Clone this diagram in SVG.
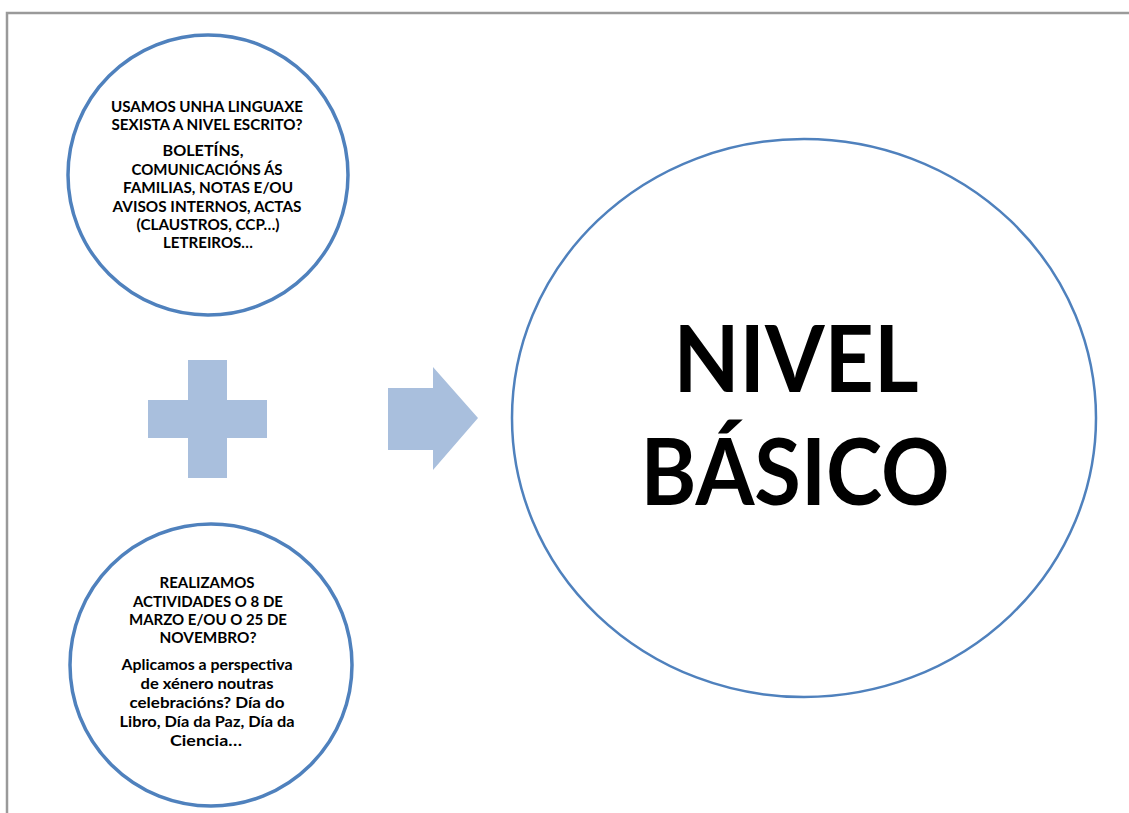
<svg xmlns="http://www.w3.org/2000/svg" width="1129" height="813" viewBox="0 0 1129 813">
<style>
.frame{fill:none;stroke:#9a9a9a;stroke-width:2.5}
.ring{fill:#ffffff;stroke:#4F81BD;stroke-width:3.5}
.big{fill:#ffffff;stroke:#4F81BD;stroke-width:2.5}
.shape{fill:#A9BFDD}
.t{font-family:Lato,"Open Sans","Liberation Sans",sans-serif;font-weight:bold;font-size:15.5px;fill:#000;text-anchor:middle}
.tb{font-family:Lato,"Open Sans","Liberation Sans",sans-serif;font-weight:bold;font-size:92px;fill:#000;text-anchor:middle}
</style>
<rect width="1129" height="813" fill="#ffffff"/>
<path class="frame" d="M7,813 L7,13 L1129,13"/>
<g id="node-top">
<circle class="ring" cx="208" cy="175" r="140"/>
<text class="t" x="207" y="112" textLength="192" lengthAdjust="spacingAndGlyphs">USAMOS UNHA LINGUAXE</text>
<text class="t" x="207" y="130" textLength="191" lengthAdjust="spacingAndGlyphs">SEXISTA A NIVEL ESCRITO?</text>
<text class="t" x="203" y="156" textLength="81" lengthAdjust="spacingAndGlyphs">BOLETÍNS,</text>
<text class="t" x="207" y="175" textLength="151" lengthAdjust="spacingAndGlyphs">COMUNICACIÓNS ÁS</text>
<text class="t" x="208" y="193" textLength="170" lengthAdjust="spacingAndGlyphs">FAMILIAS, NOTAS E/OU</text>
<text class="t" x="207" y="212" textLength="189" lengthAdjust="spacingAndGlyphs">AVISOS INTERNOS, ACTAS</text>
<text class="t" x="208" y="230" textLength="143" lengthAdjust="spacingAndGlyphs">(CLAUSTROS, CCP…)</text>
<text class="t" x="208" y="248" textLength="90" lengthAdjust="spacingAndGlyphs">LETREIROS…</text>
</g>
<g id="node-bottom">
<circle class="ring" cx="211" cy="665" r="141"/>
<text class="t" x="207" y="588" textLength="95" lengthAdjust="spacingAndGlyphs">REALIZAMOS</text>
<text class="t" x="208" y="607" textLength="150" lengthAdjust="spacingAndGlyphs">ACTIVIDADES O 8 DE</text>
<text class="t" x="208" y="625" textLength="158" lengthAdjust="spacingAndGlyphs">MARZO E/OU O 25 DE</text>
<text class="t" x="208" y="643" textLength="97" lengthAdjust="spacingAndGlyphs">NOVEMBRO?</text>
<text class="t" x="207" y="670" textLength="171" lengthAdjust="spacingAndGlyphs">Aplicamos a perspectiva</text>
<text class="t" x="207" y="689" textLength="133" lengthAdjust="spacingAndGlyphs">de xénero noutras</text>
<text class="t" x="207" y="708" textLength="155" lengthAdjust="spacingAndGlyphs">celebracións? Día do</text>
<text class="t" x="207" y="727" textLength="175" lengthAdjust="spacingAndGlyphs">Libro, Día da Paz, Día da</text>
<text class="t" x="206" y="746" textLength="72" lengthAdjust="spacingAndGlyphs">Ciencia…</text>
</g>
<g id="plus">
<path class="shape" d="M188,360 H227 V400 H267 V438 H227 V478 H188 V438 H148 V400 H188 Z"/>
</g>
<g id="connectors">
<path class="shape" d="M388,388 H433 V367 L478,418 L433,470 V450 H388 Z"/>
</g>
<g id="node-main">
<ellipse class="big" cx="804" cy="418" rx="292" ry="279"/>
<text class="tb" x="796" y="392" textLength="245" lengthAdjust="spacingAndGlyphs">NIVEL</text>
<text class="tb" x="795" y="505" textLength="309" lengthAdjust="spacingAndGlyphs">BÁSICO</text>
</g>
</svg>
